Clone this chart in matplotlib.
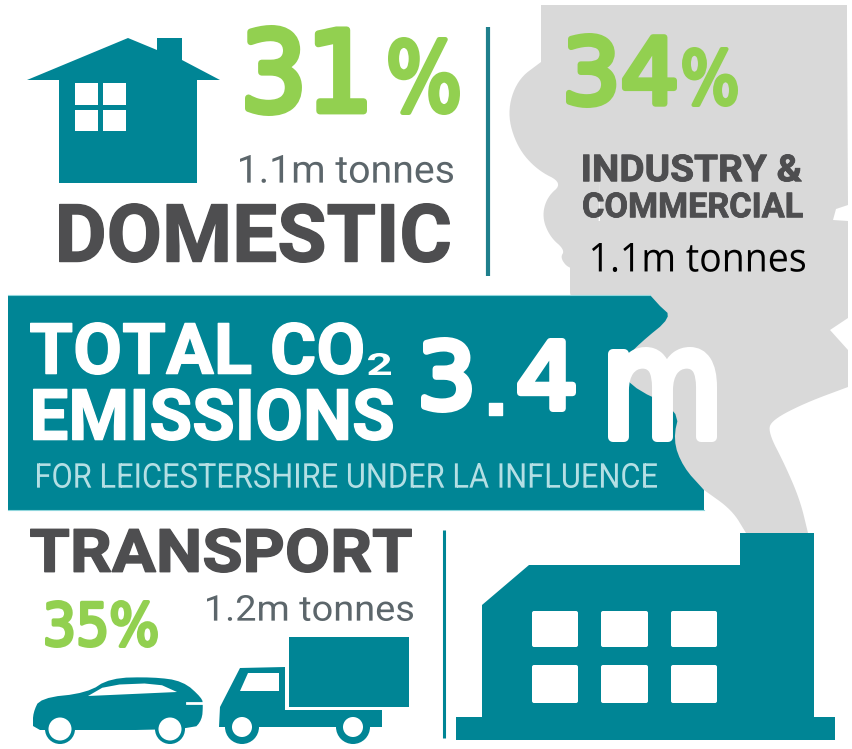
import matplotlib
matplotlib.use("Agg")
import matplotlib.pyplot as plt
import matplotlib.patheffects as pe
from matplotlib.patches import Polygon, Rectangle, Circle, FancyBboxPatch
from matplotlib.font_manager import FontProperties
from matplotlib.textpath import TextPath
from matplotlib.transforms import Affine2D

# values shown on the graphic
sectors = ['DOMESTIC', 'INDUSTRY &', 'COMMERCIAL', 'TRANSPORT']
percents = ['31', '34', '35']
tonnes = ['1.1m tonnes', '1.1m tonnes', '1.2m tonnes']
total_lines = ['TOTAL CO', 'EMISSIONS']
total_value = ['3', '.', '4', 'm']
subtitle = 'FOR LEICESTERSHIRE UNDER LA INFLUENCE'

TEAL = '#008595'
GREEN = '#92D050'
GREY = '#D9D9D9'
DARK = '#4E4E50'
SOFT = '#5C666B'

fig = plt.figure(figsize=(8.53, 7.49), dpi=100)
ax = fig.add_axes([0, 0, 1, 1])
ax.set_xlim(0, 853)
ax.set_ylim(749, 0)
ax.axis('off')


class Stretch(pe.AbstractPathEffect):
    """Stretch glyphs upward from the baseline, with an optional round outline."""

    def __init__(self, k, stroke, color):
        super().__init__()
        self.k = k
        self.stroke = stroke
        self.color = color

    def draw_path(self, renderer, gc, tpath, affine, rgbFace=None):
        aff = Affine2D().scale(1, self.k) + affine
        if self.stroke:
            gc0 = renderer.new_gc()
            gc0.copy_properties(gc)
            gc0.set_linewidth(self.stroke)
            gc0.set_foreground(self.color)
            gc0.set_joinstyle('round')
            gc0.set_capstyle('round')
            renderer.draw_path(gc0, tpath, aff, rgbFace)
            gc0.restore()
        renderer.draw_path(gc, tpath, aff, rgbFace)


def fit_text(s, x0, x1, top, bottom, family='Roboto', weight='normal', color=DARK, stroke=0, z=10):
    """Fit s into the pixel box x0..x1, top..bottom. stroke is in points."""
    pad = stroke * 100 / 72 / 2
    x0, x1, top, bottom = x0 + pad, x1 - pad, top + pad, bottom - pad
    fp = FontProperties(family=family, weight=weight)
    bb = TextPath((0, 0), s, size=100, prop=fp).get_extents()
    scale = (x1 - x0) / bb.width
    k = (bottom - top) / (bb.height * scale)
    t = ax.text(x0 - bb.x0 * scale, bottom + bb.y0 * scale * k, s, fontproperties=fp,
                fontsize=scale * 100 * 0.72, color=color, ha='left', va='baseline', zorder=z)
    t.set_path_effects([Stretch(k, stroke, color)])
    return t


def chaikin(pts, n=3):
    """Round off an open outline, keeping its two end points."""
    for _ in range(n):
        new = [pts[0]]
        for (x0, y0), (x1, y1) in zip(pts[:-1], pts[1:]):
            new.append((0.75 * x0 + 0.25 * x1, 0.75 * y0 + 0.25 * y1))
            new.append((0.25 * x0 + 0.75 * x1, 0.25 * y0 + 0.75 * y1))
        new.append(pts[-1])
        pts = new
    return pts


def shape(pts, color=TEAL, z=3):
    ax.add_patch(Polygon(pts, closed=True, fc=color, ec='none', zorder=z))


def box(x0, y0, x1, y1, color='white', z=4):
    ax.add_patch(FancyBboxPatch((x0 + 2, y0 + 2), x1 - x0 - 4, y1 - y0 - 4,
                                boxstyle='round,pad=2', fc=color, ec='none', zorder=z))


def wheel(x, y, r_out, r_in):
    ax.add_patch(Circle((x, y), r_out, fc=TEAL, ec='none', zorder=3))
    ax.add_patch(Circle((x, y), r_in, fc='white', ec='none', zorder=6))


# smoke: hard edged boxes plus the rounded cloud behind them
shape([(541, 5), (847, 5), (847, 25), (848, 205), (836, 209), (833, 220), (848, 221), (848, 293),
       (570, 293), (570, 221), (600, 221), (600, 62), (541, 62)], color=GREY, z=1)
shape(chaikin([(541, 62), (517, 80), (507, 113), (517, 147), (537, 170), (563, 183), (547, 197),
               (542, 217), (550, 237), (565, 250), (560, 258), (570, 270), (600, 270), (600, 62)]),
      color=GREY, z=1)
shape([(848, 293), (848, 318), (830, 330), (848, 350)] +
      chaikin([(848, 387), (805, 403), (772, 420), (768, 432), (785, 465), (800, 500), (808, 533)]) +
      [(746, 533)] + chaikin([(746, 533), (732, 510), (704, 490)]) + [(600, 400), (570, 293)],
      color=GREY, z=1)

# house
shape([(27, 80), (128, 38), (157, 50), (157, 38), (182, 38), (182, 60), (220, 80), (197, 80),
       (197, 183), (59, 183), (59, 80)])
for x0, x1 in [(75, 98), (103, 126)]:
    for y0, y1 in [(83, 105), (110, 131)]:
        ax.add_patch(Rectangle((x0, y0), x1 - x0, y1 - y0, fc='white', ec='none', zorder=4))

# dividers
ax.plot([488, 488], [27, 276], color='#1F7F8C', lw=3, solid_capstyle='butt', zorder=2)
ax.plot([444, 444], [530, 738], color=TEAL, lw=2.2, solid_capstyle='butt', zorder=2)

# banner
shape([(8, 295), (650, 295), (660, 306)] + chaikin([(660, 306), (672, 317), (640, 343), (622, 362),
                                                     (627, 385), (680, 410), (673, 440), (683, 467),
                                                     (704, 490)], 2) +
      [(704, 510), (8, 510)])
ax.plot([8, 650], [295, 295], color='#8FD6DC', lw=0.8, zorder=3)
ax.plot([8, 704], [510, 510], color='#8FD6DC', lw=0.8, zorder=3)

# factory
shape([(482, 717), (482, 605), (529, 565), (740, 565), (740, 533), (814, 533), (814, 717),
       (835, 717), (835, 740), (456, 740), (456, 717)])
for x0, x1 in [(532, 578), (601, 648), (671, 717)]:
    for y0, y1 in [(611, 647), (665, 703)]:
        box(x0, y0, x1, y1)

# truck
ax.add_patch(Rectangle((289, 637), 120, 70, fc=TEAL, ec='none', zorder=3))
shape([(240, 668), (285, 667), (285, 710), (382, 710), (382, 727), (219, 727), (220, 707)])
shape([(248, 673), (279, 673), (279, 691), (240, 691)], color='white', z=4)
wheel(242, 727, 17, 10)
wheel(353, 727, 17, 10)

# car
shape(chaikin([(33, 726), (33, 713), (40, 698), (87, 693), (110, 678), (153, 677), (183, 681),
               (202, 698), (203, 705), (202, 720), (193, 730), (40, 730)], 2))
shape(chaikin([(88, 696), (107, 685), (157, 683), (177, 692)], 1), color='white', z=4)
ax.plot([187, 204], [702.5, 702.5], color='white', lw=2, zorder=4)
wheel(60, 729, 15, 11.5)
wheel(170, 729, 15, 11.5)

# headline numbers
fit_text(percents[0], 245, 367, 25, 116, family='DejaVu Sans', color=GREEN, stroke=5)
fit_text('%', 388, 460, 37, 115, family='DejaVu Sans', color=GREEN, stroke=3.5)
fit_text(percents[1], 566, 677, 33, 108, family='DejaVu Sans', color=GREEN, stroke=4.5)
fit_text('%', 682, 738, 47, 107, family='DejaVu Sans', color=GREEN, stroke=3)
fit_text(percents[2] + '%', 45, 158, 600, 648, family='DejaVu Sans', color=GREEN, stroke=2.5)

# sector names
fit_text(sectors[0], 59, 450, 203, 263, weight='bold', stroke=1)
fit_text(sectors[1], 583, 802, 154, 182, weight='bold', stroke=0.6)
fit_text(sectors[2], 583, 803, 192, 218, weight='bold', stroke=0.6)
fit_text(sectors[3], 30, 412, 528, 573, weight='bold', stroke=1)

# tonnes
fit_text(tonnes[0], 240, 453, 155, 183, color=SOFT)
fit_text(tonnes[1], 592, 805, 243, 272, family='Open Sans', color='black')
fit_text(tonnes[2], 207, 413, 595, 621, color=SOFT)

# banner text
fit_text(total_lines[0], 30, 363, 322, 375, weight='bold', color='white', stroke=1)
fit_text('2', 368, 391, 353, 375, weight='bold', color='white')
fit_text(total_lines[1], 33, 393, 388, 441, weight='bold', color='white', stroke=1)
fit_text(subtitle, 37, 657, 463, 488, color='#B4DFE4')
fit_text(total_value[0], 421, 472, 337, 413, family='DejaVu Sans', color='white', stroke=5)
fit_text(total_value[1], 488, 503, 402, 416, family='DejaVu Sans', color='white', stroke=1)
fit_text(total_value[2], 517, 576, 338, 412, family='DejaVu Sans', color='white', stroke=5)
fit_text(total_value[3], 608, 717, 347, 442, family='DejaVu Sans', color='white', stroke=7)

fig.savefig('out.png', dpi=100, facecolor='white')
